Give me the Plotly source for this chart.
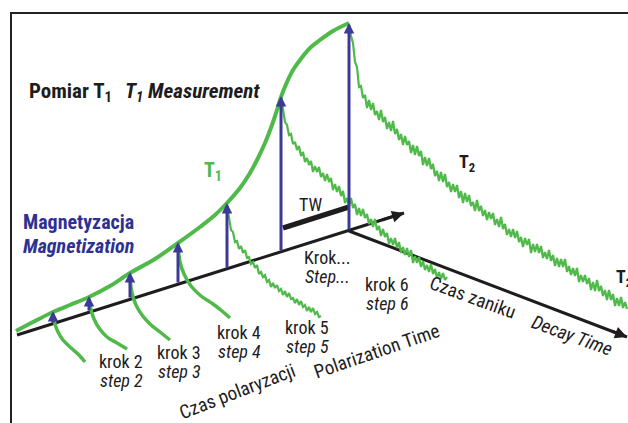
import plotly.graph_objects as go

# ---- curves (pixel-space coordinates, y grows downward) ----
growth_x = [16, 35, 53, 70, 89, 110, 130, 155, 178, 200, 215, 227, 240, 250, 258, 265, 272, 277, 281, 287, 293, 300, 310, 320, 333, 349]
growth_y = [331, 321, 312, 305, 297, 286, 273, 259, 243, 227, 215, 203, 188, 173, 158, 143, 125, 110, 97, 82, 70, 60, 48, 40, 31, 23]

c1_x = [53, 55, 58, 63, 70, 78, 85]
c1_y = [315, 324, 332, 340, 347, 354, 362]
c2_x = [89, 91, 94, 99, 107, 117, 127]
c2_y = [300, 310, 319, 328, 337, 343, 349]
c3_x = [130, 132, 136, 142, 150, 160, 170]
c3_y = [278, 293, 305, 315, 324, 332, 340]
c4_x = [178, 180, 184, 191, 201, 213, 222, 230]
c4_y = [245, 262, 274, 286, 296, 304, 311, 318]

# noisy decay records, sampled every 2 px
c5_x = list(range(227, 322, 2))
c5_y = [205, 219, 230, 232, 242, 241, 249, 246, 253, 250, 258, 257, 264, 262, 268, 265, 274, 272, 277, 275,
        282, 280, 287, 283, 288, 285, 291, 289, 295, 291, 297, 293, 299, 298, 303, 299, 305, 301, 307, 305,
        311, 307, 312, 308, 314, 312, 317, 316]

c6_x = list(range(281, 448, 2))
c6_y = [97, 112, 122, 125, 135, 134, 144, 142, 150, 146, 156, 152, 162, 158, 165, 161, 172, 166, 172, 167,
        177, 173, 181, 174, 182, 178, 190, 184, 192, 186, 196, 191, 203, 198, 206, 198, 208, 204, 215, 208,
        216, 209, 218, 214, 224, 219, 227, 219, 230, 226, 236, 229, 237, 233, 244, 238, 245, 238, 248, 242,
        253, 247, 255, 248, 257, 250, 263, 256, 263, 257, 267, 261, 270, 265, 272, 264, 274, 269, 278, 272,
        279, 273, 280, 277]

c7_x = list(range(349, 628, 2))
c7_y = [24, 36, 43, 62, 67, 87, 86, 98, 95, 108, 100, 110, 103, 115, 111, 120, 110, 122, 117, 129,
        122, 131, 121, 134, 129, 140, 134, 145, 136, 145, 141, 153, 145, 155, 146, 156, 151, 165, 157, 166,
        158, 169, 164, 176, 171, 181, 172, 182, 174, 187, 182, 192, 184, 192, 185, 198, 191, 203, 193, 202,
        195, 206, 202, 211, 200, 211, 206, 216, 210, 220, 212, 219, 213, 225, 219, 227, 217, 229, 224, 235,
        229, 237, 229, 238, 231, 242, 237, 247, 238, 245, 239, 253, 244, 252, 244, 253, 246, 258, 252, 259,
        250, 261, 255, 266, 258, 267, 259, 267, 259, 272, 266, 275, 268, 276, 268, 282, 275, 282, 275, 284,
        278, 290, 282, 291, 280, 291, 286, 296, 290, 300, 290, 300, 294, 306, 298, 306, 297, 308, 302, 309]

# polarization steps: arrow x, start on the time axis, tip on the growth curve
step_x = [53, 89, 130, 178, 227, 281, 349]
step_base = [324, 312, 299, 284, 269, 252, 231]
step_top = [311, 296, 272, 242, 203, 96, 23]

pol_axis_x = [17, 404]
pol_axis_y = [335, 213]
decay_axis_x = [349, 627]
decay_axis_y = [231, 337]
tw_x = [283, 349]
tw_y = [228, 207]
frame_x = [11, 11, 628]
frame_y = [423, 13, 13]

GREEN = "#4fb94a"
BLUE = "#3c3a98"
TXT_BLUE = "#2e3192"
BLACK = "#1e1c1d"
FONT = "Liberation Sans Narrow, Roboto Condensed, Liberation Sans, Arial"

fig = go.Figure()


def line(x, y, color, width, shape="linear"):
    fig.add_trace(go.Scatter(x=x, y=y, mode="lines", hoverinfo="skip",
                             line=dict(color=color, width=width, shape=shape)))


line(frame_x, frame_y, "#222222", 2)
line(pol_axis_x, pol_axis_y, BLACK, 3)
line(decay_axis_x, decay_axis_y, BLACK, 3)
line(tw_x, tw_y, BLACK, 5.5)

for cx, cy in [(c1_x, c1_y), (c2_x, c2_y), (c3_x, c3_y), (c4_x, c4_y)]:
    line(cx, cy, GREEN, 3.5, "spline")
for cx, cy in [(c5_x, c5_y), (c6_x, c6_y), (c7_x, c7_y)]:
    line(cx, cy, GREEN, 2.2)
line(growth_x, growth_y, GREEN, 4, "spline")

annotations = []
for sx, sb, st in zip(step_x, step_base, step_top):
    annotations.append(dict(x=sx, y=st, ax=sx, ay=sb, xref="x", yref="y", axref="x", ayref="y",
                            text="", showarrow=True, arrowhead=2, arrowsize=0.7,
                            arrowwidth=3, arrowcolor=BLUE, standoff=0))

# arrowheads on the two time axes
for (x0, x1), (y0, y1) in [(pol_axis_x, pol_axis_y), (decay_axis_x, decay_axis_y)]:
    annotations.append(dict(x=x1, y=y1, ax=x1 - (x1 - x0) * 0.06, ay=y1 - (y1 - y0) * 0.06,
                            xref="x", yref="y", axref="x", ayref="y", text="", showarrow=True,
                            arrowhead=2, arrowsize=0.8, arrowwidth=3, arrowcolor=BLACK, standoff=0))


def label(text, x, y, size, color=BLACK, angle=0, xanchor="left"):
    annotations.append(dict(text=text, x=x, y=y, xref="x", yref="y", showarrow=False,
                            xanchor=xanchor, yanchor="middle", textangle=angle,
                            font=dict(family=FONT, size=size, color=color)))


label("<b>Pomiar T<sub>1</sub></b>", 27, 92, 21)
label("<b><i>T<sub>1</sub> Measurement</i></b>", 123, 92, 21)
label("<b>T<sub>1</sub></b>", 202, 171, 20, GREEN)
label("<b>Magnetyzacja</b>", 21, 222, 20, TXT_BLUE)
label("<b><i>Magnetization</i></b>", 21, 246, 20, TXT_BLUE)
label("<b>T<sub>2</sub></b>", 457, 163, 18)
label("<b>T<sub>2</sub></b>", 614, 278, 18)
label("TW", 297, 204, 18)

step_labels = [("krok 2", "step 2", 97, 367), ("krok 3", "step 3", 155, 358),
               ("krok 4", "step 4", 215, 338), ("krok 5", "step 5", 283, 333),
               ("Krok...", "Step...", 302, 263), ("krok 6", "step 6", 363, 290)]
for pl, en, lx, base in step_labels:
    label(pl, lx, base - 6, 18)
    label("<i>" + en + "</i>", lx + 1, base + 13, 18)

label("Czas polaryzacji", 237, 391, 19, angle=-21, xanchor="center")
label("Polarization Time", 376, 351, 19, angle=-19, xanchor="center")
label("Czas zaniku", 473, 297, 19, angle=20, xanchor="center")
label("<i>Decay Time</i>", 572, 335, 19, angle=20, xanchor="center")

fig.update_layout(
    width=628, height=423, margin=dict(l=0, r=0, t=0, b=0),
    paper_bgcolor="white", plot_bgcolor="white", showlegend=False,
    xaxis=dict(range=[0, 628], visible=False, fixedrange=True),
    yaxis=dict(range=[423, 0], visible=False, fixedrange=True),
    annotations=annotations,
)

fig.write_html("out.html")
